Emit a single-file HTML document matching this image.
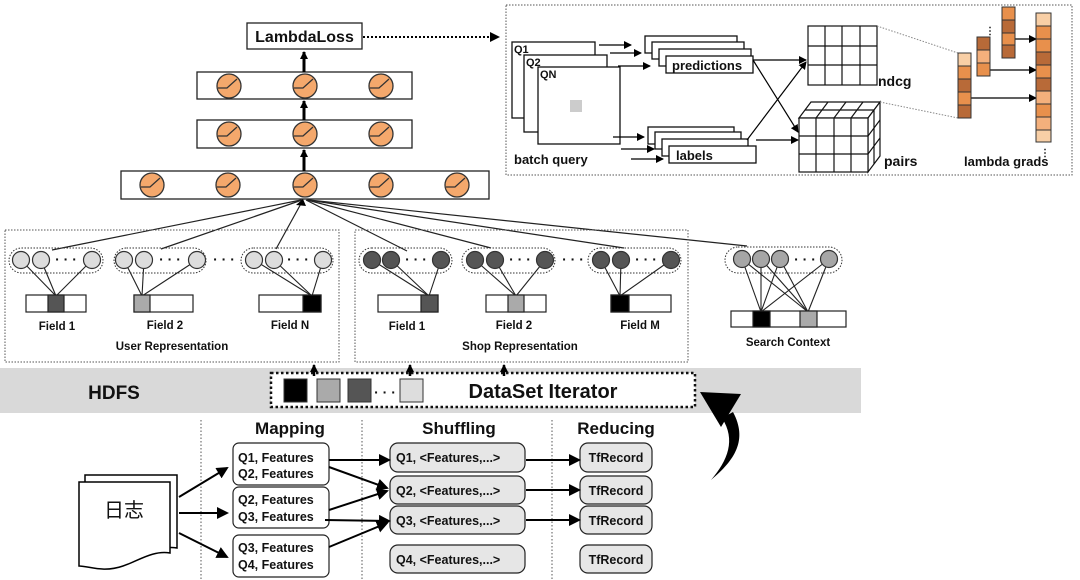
<!DOCTYPE html>
<html><head><meta charset="utf-8"><style>
html,body{margin:0;padding:0;background:#fff;width:1080px;height:580px;overflow:hidden}
svg{display:block}
text{font-family:"Liberation Sans","Noto Sans CJK SC",sans-serif;font-weight:bold;fill:#111}
</style></head><body>
<svg width="1080" height="580" viewBox="0 0 1080 580" xmlns="http://www.w3.org/2000/svg">
<defs>
<marker id="ah" markerWidth="8" markerHeight="8" refX="7" refY="4" orient="auto" markerUnits="userSpaceOnUse"><path d="M0,0 L8,4 L0,8 z" fill="#000"/></marker>
<marker id="ab" markerWidth="12" markerHeight="12" refX="10" refY="6" orient="auto" markerUnits="userSpaceOnUse"><path d="M0,0 L12,6 L0,12 z" fill="#000"/></marker>
<g id="neu"><circle r="12" fill="#f4a86c" stroke="#333" stroke-width="1.3"/><path d="M-11,2 L-2,2 L8,-7" fill="none" stroke="#333" stroke-width="1.3"/></g>
</defs>

<!-- top network -->
<rect x="247" y="23" width="115" height="26" fill="#fff" stroke="#222" stroke-width="1.3"/>
<text x="304.5" y="42" font-size="16" text-anchor="middle">LambdaLoss</text>
<line x1="363" y1="37" x2="496" y2="37" stroke="#000" stroke-width="2" stroke-dasharray="2,2"/>
<path d="M490,32 L500,37 L490,42 z" fill="#000"/>
<rect x="197" y="72" width="215" height="27" fill="#fff" stroke="#222" stroke-width="1.3"/>
<rect x="197" y="120" width="215" height="28" fill="#fff" stroke="#222" stroke-width="1.3"/>
<rect x="121" y="171" width="368" height="28" fill="#fff" stroke="#222" stroke-width="1.3"/>
<use href="#neu" x="229" y="86"/><use href="#neu" x="305" y="86"/><use href="#neu" x="381" y="86"/>
<use href="#neu" x="229" y="134"/><use href="#neu" x="305" y="134"/><use href="#neu" x="381" y="134"/>
<use href="#neu" x="152" y="185"/><use href="#neu" x="228" y="185"/><use href="#neu" x="305" y="185"/><use href="#neu" x="381" y="185"/><use href="#neu" x="457" y="185"/>
<line x1="304" y1="72" x2="304" y2="52" stroke="#000" stroke-width="3" marker-end="url(#ah)"/>
<line x1="304" y1="120" x2="304" y2="101" stroke="#000" stroke-width="3" marker-end="url(#ah)"/>
<line x1="304" y1="171" x2="304" y2="150" stroke="#000" stroke-width="3" marker-end="url(#ah)"/>

<!-- fan lines -->
<g stroke="#222" stroke-width="1.2" fill="none">
<line x1="301" y1="200" x2="52" y2="250"/><line x1="302" y1="200" x2="161" y2="249"/>
<line x1="303" y1="200" x2="276" y2="249"/><line x1="306" y1="200" x2="407" y2="251"/>
<line x1="307" y1="200" x2="491" y2="248"/><line x1="308" y1="200" x2="624" y2="248"/>
<line x1="309" y1="200" x2="747" y2="246"/>
</g>
<path d="M296,205 L303,199 L306,206 z" fill="#000"/>

<!-- right panel -->
<rect x="506" y="5" width="566" height="170" fill="#fff" stroke="#555" stroke-width="1" stroke-dasharray="1.5,1.5"/>
<rect x="512" y="42" width="83" height="76" fill="#fff" stroke="#111" stroke-width="1.3"/>
<rect x="524" y="55" width="83" height="77" fill="#fff" stroke="#111" stroke-width="1.3"/>
<rect x="538" y="67" width="82" height="77" fill="#fff" stroke="#111" stroke-width="1.3"/>
<text x="514" y="53" font-size="11">Q1</text><text x="526" y="66" font-size="11">Q2</text><text x="540" y="78" font-size="11">QN</text>
<rect x="570" y="100" width="12" height="12" fill="#ccc"/>
<text x="514" y="164" font-size="13">batch query</text>
<g fill="#fff" stroke="#111" stroke-width="1.3">
<rect x="645" y="36" width="92" height="17"/><rect x="652" y="42" width="92" height="17"/><rect x="659" y="49" width="92" height="17"/><rect x="666" y="56" width="87" height="17"/>
<rect x="648" y="127" width="86" height="17"/><rect x="655" y="132" width="86" height="17"/><rect x="662" y="139" width="86" height="17"/><rect x="669" y="146" width="87" height="17"/>
</g>
<text x="672" y="70" font-size="13">predictions</text>
<text x="676" y="160" font-size="13">labels</text>
<g stroke="#000" stroke-width="1.2" marker-end="url(#ah)">
<line x1="599" y1="45" x2="631" y2="45"/><line x1="610" y1="53" x2="641" y2="53"/><line x1="618" y1="66" x2="650" y2="66"/>
<line x1="613" y1="137" x2="644" y2="137"/><line x1="621" y1="149" x2="654" y2="149"/><line x1="631" y1="159" x2="663" y2="159"/>
<line x1="753" y1="60" x2="806" y2="60"/><line x1="753" y1="60" x2="798" y2="132"/>
<line x1="747" y1="140" x2="806" y2="62"/><line x1="756" y1="140" x2="798" y2="140"/>
<line x1="971" y1="98" x2="1036" y2="98"/><line x1="990" y1="70" x2="1036" y2="70"/><line x1="1015" y1="39" x2="1036" y2="39"/>
</g>
<!-- ndcg grid -->
<g stroke="#111" stroke-width="1.2" fill="#fff">
<rect x="808" y="26" width="69" height="59"/>
<line x1="825" y1="26" x2="825" y2="85"/><line x1="842" y1="26" x2="842" y2="85"/><line x1="860" y1="26" x2="860" y2="85"/>
<line x1="808" y1="46" x2="877" y2="46"/><line x1="808" y1="65" x2="877" y2="65"/>
</g>
<text x="878" y="86" font-size="14">ndcg</text>
<!-- pairs cube -->
<g stroke="#111" stroke-width="1.2" fill="#fff">
<path d="M799,118 L811,102 L880,102 L868,118 z"/>
<path d="M868,118 L880,102 L880,156 L868,172 z"/>
<rect x="799" y="118" width="69" height="54"/>
<line x1="816" y1="118" x2="816" y2="172"/><line x1="834" y1="118" x2="834" y2="172"/><line x1="851" y1="118" x2="851" y2="172"/>
<line x1="799" y1="136" x2="868" y2="136"/><line x1="799" y1="154" x2="868" y2="154"/>
<line x1="816" y1="118" x2="828" y2="102"/><line x1="834" y1="118" x2="846" y2="102"/><line x1="851" y1="118" x2="863" y2="102"/>
<line x1="805" y1="110" x2="874" y2="110"/>
<line x1="874" y1="110" x2="874" y2="164"/>
<line x1="868" y1="136" x2="880" y2="120"/><line x1="868" y1="154" x2="880" y2="138"/>
</g>
<text x="884" y="166" font-size="14">pairs</text>
<line x1="877" y1="26" x2="958" y2="53" stroke="#888" stroke-width="1" stroke-dasharray="1.5,1.5"/>
<line x1="880" y1="102" x2="958" y2="118" stroke="#888" stroke-width="1" stroke-dasharray="1.5,1.5"/>
<!-- orange columns -->
<g stroke="#333" stroke-width="1">
<rect x="958" y="53" width="13" height="13" fill="#f8cfa6"/><rect x="958" y="66" width="13" height="13" fill="#e8904c"/><rect x="958" y="79" width="13" height="13" fill="#b86a38"/><rect x="958" y="92" width="13" height="13" fill="#e8904c"/><rect x="958" y="105" width="13" height="13" fill="#b86a38"/>
<rect x="977" y="37" width="13" height="13" fill="#b86a38"/><rect x="977" y="50" width="13" height="13" fill="#f4b07c"/><rect x="977" y="63" width="13" height="13" fill="#e8904c"/>
<rect x="1002" y="7" width="13" height="13" fill="#e8904c"/><rect x="1002" y="20" width="13" height="13" fill="#b86a38"/><rect x="1002" y="33" width="13" height="12" fill="#e8904c"/><rect x="1002" y="45" width="13" height="13" fill="#b86a38"/>
<rect x="1036" y="13" width="15" height="13" fill="#f8cfa6"/><rect x="1036" y="26" width="15" height="13" fill="#e8904c"/><rect x="1036" y="39" width="15" height="13" fill="#e8904c"/><rect x="1036" y="52" width="15" height="13" fill="#b86a38"/><rect x="1036" y="65" width="15" height="13" fill="#e8904c"/><rect x="1036" y="78" width="15" height="13" fill="#b86a38"/><rect x="1036" y="91" width="15" height="13" fill="#f4b07c"/><rect x="1036" y="104" width="15" height="13" fill="#e8904c"/><rect x="1036" y="117" width="15" height="13" fill="#f4b07c"/><rect x="1036" y="130" width="15" height="12" fill="#f8cfa6"/>
</g>
<text x="985" y="34" font-size="10">⋮</text>
<text x="1040" y="156" font-size="10">⋮</text>
<text x="964" y="166" font-size="13">lambda grads</text>

<!-- representation boxes -->
<rect x="5" y="230" width="334" height="132" fill="none" stroke="#555" stroke-dasharray="1.5,1.5"/>
<rect x="355" y="230" width="333" height="132" fill="none" stroke="#555" stroke-dasharray="1.5,1.5"/>
<g fill="none" stroke="#333" stroke-dasharray="1.5,1.5">
<rect x="9" y="248" width="94" height="25" rx="12.5"/><rect x="114" y="248" width="92" height="25" rx="12.5"/><rect x="241" y="248" width="92" height="25" rx="12.5"/>
<rect x="359" y="248" width="93" height="25" rx="12.5"/><rect x="462" y="248" width="93" height="25" rx="12.5"/><rect x="588" y="248" width="93" height="25" rx="12.5"/>
<rect x="725" y="247" width="117" height="26" rx="13"/>
</g>
<g stroke="#222" stroke-width="1.1">
<line x1="21" y1="260" x2="56" y2="296"/><line x1="41" y1="260" x2="56" y2="296"/><line x1="92" y1="260" x2="56" y2="296"/>
<line x1="124" y1="260" x2="142" y2="296"/><line x1="144" y1="260" x2="142" y2="296"/><line x1="197" y1="260" x2="142" y2="296"/>
<line x1="254" y1="260" x2="312" y2="296"/><line x1="274" y1="260" x2="312" y2="296"/><line x1="323" y1="260" x2="312" y2="296"/>
<line x1="372" y1="260" x2="429" y2="296"/><line x1="391" y1="260" x2="429" y2="296"/><line x1="441" y1="260" x2="429" y2="296"/>
<line x1="475" y1="260" x2="516" y2="296"/><line x1="495" y1="260" x2="516" y2="296"/><line x1="545" y1="260" x2="516" y2="296"/>
<line x1="601" y1="260" x2="620" y2="296"/><line x1="621" y1="260" x2="620" y2="296"/><line x1="671" y1="260" x2="620" y2="296"/>
<line x1="742" y1="259" x2="761" y2="312"/><line x1="742" y1="259" x2="808" y2="312"/>
<line x1="761" y1="259" x2="761" y2="312"/><line x1="761" y1="259" x2="808" y2="312"/>
<line x1="780" y1="259" x2="761" y2="312"/><line x1="780" y1="259" x2="808" y2="312"/>
<line x1="829" y1="259" x2="761" y2="312"/><line x1="829" y1="259" x2="808" y2="312"/>
</g>
<g stroke="#333" stroke-width="1.2">
<g fill="#ddd"><circle cx="21" cy="260" r="8.5"/><circle cx="41" cy="260" r="8.5"/><circle cx="92" cy="260" r="8.5"/><circle cx="124" cy="260" r="8.5"/><circle cx="144" cy="260" r="8.5"/><circle cx="197" cy="260" r="8.5"/><circle cx="254" cy="260" r="8.5"/><circle cx="274" cy="260" r="8.5"/><circle cx="323" cy="260" r="8.5"/></g>
<g fill="#555"><circle cx="372" cy="260" r="8.5"/><circle cx="391" cy="260" r="8.5"/><circle cx="441" cy="260" r="8.5"/><circle cx="475" cy="260" r="8.5"/><circle cx="495" cy="260" r="8.5"/><circle cx="545" cy="260" r="8.5"/><circle cx="601" cy="260" r="8.5"/><circle cx="621" cy="260" r="8.5"/><circle cx="671" cy="260" r="8.5"/></g>
<g fill="#a6a6a6"><circle cx="742" cy="259" r="8.5"/><circle cx="761" cy="259" r="8.5"/><circle cx="780" cy="259" r="8.5"/><circle cx="829" cy="259" r="8.5"/></g>
</g>
<g font-size="14" text-anchor="middle">
<text x="66" y="264">· · ·</text><text x="170" y="264">· · ·</text><text x="224" y="264">· · ·</text><text x="298" y="264">· · ·</text>
<text x="416" y="264">· · ·</text><text x="520" y="264">· · ·</text><text x="573" y="264">· · ·</text><text x="646" y="264">· · ·</text><text x="805" y="264">· · ·</text>
</g>
<!-- bars -->
<g stroke="#222" stroke-width="1.2">
<rect x="26" y="295" width="60" height="17" fill="#fff"/><rect x="48" y="295" width="16" height="17" fill="#555"/>
<rect x="134" y="295" width="59" height="17" fill="#fff"/><rect x="134" y="295" width="16" height="17" fill="#aaa"/>
<rect x="259" y="295" width="62" height="17" fill="#fff"/><rect x="303" y="295" width="18" height="17" fill="#000"/>
<rect x="378" y="295" width="60" height="17" fill="#fff"/><rect x="421" y="295" width="17" height="17" fill="#555"/>
<rect x="486" y="295" width="60" height="17" fill="#fff"/><rect x="508" y="295" width="16" height="17" fill="#aaa"/>
<rect x="611" y="295" width="60" height="17" fill="#fff"/><rect x="611" y="295" width="18" height="17" fill="#000"/>
<rect x="731" y="311" width="115" height="16" fill="#fff"/><rect x="753" y="311" width="17" height="16" fill="#000"/><rect x="800" y="311" width="17" height="16" fill="#aaa"/>
</g>
<g font-size="11.5" text-anchor="middle">
<text x="57" y="330">Field 1</text><text x="165" y="329">Field 2</text><text x="290" y="329">Field N</text>
<text x="407" y="330">Field 1</text><text x="514" y="329">Field 2</text><text x="640" y="329">Field M</text>
<text x="172" y="350">User Representation</text><text x="520" y="350">Shop Representation</text>
<text x="788" y="346">Search Context</text>
</g>

<!-- HDFS band -->
<rect x="0" y="368" width="861" height="45" fill="#d9d9d9"/>
<text x="114" y="399" font-size="19" text-anchor="middle">HDFS</text>
<rect x="271" y="373" width="424" height="34" fill="#fff" stroke="#111" stroke-width="2.5" stroke-dasharray="2.5,2.5"/>
<g stroke="#333" stroke-width="1"><rect x="284" y="379" width="23" height="23" fill="#000"/><rect x="317" y="379" width="23" height="23" fill="#aaa"/><rect x="348" y="379" width="23" height="23" fill="#555"/><rect x="400" y="379" width="23" height="23" fill="#ddd"/></g>
<text x="385" y="397" font-size="14" text-anchor="middle">· · ·</text>
<text x="543" y="398" font-size="20" text-anchor="middle">DataSet Iterator</text>
<g stroke="#000" stroke-width="2.5">
<line x1="314" y1="376" x2="314" y2="365" marker-end="url(#ah)"/><line x1="410" y1="376" x2="410" y2="365" marker-end="url(#ah)"/><line x1="504" y1="376" x2="504" y2="365" marker-end="url(#ah)"/>
</g>
<!-- curved arrow -->
<path d="M711,480 C735,460 748,440 733,412 L722,418 C736,440 728,460 711,480 z" fill="#000"/>
<path d="M700,392 L741,394 L721,427 z" fill="#000"/>

<!-- bottom map-reduce -->
<g stroke="#555" stroke-dasharray="1.5,2"><line x1="201" y1="420" x2="201" y2="580"/><line x1="362" y1="420" x2="362" y2="580"/><line x1="552" y1="420" x2="552" y2="580"/></g>
<g font-size="17" text-anchor="middle"><text x="290" y="434">Mapping</text><text x="459" y="434">Shuffling</text><text x="616" y="434">Reducing</text></g>
<!-- doc -->
<path d="M85,475 L177,475 L177,548 C160,545 145,556 130,562 C110,570 95,562 85,562 z" fill="#fff" stroke="#000" stroke-width="1.5"/>
<path d="M79,482 L170,482 L170,553 C153,550 138,561 123,566 C103,573 89,566 79,566 z" fill="#fff" stroke="#000" stroke-width="1.5"/>
<text x="124" y="517" font-size="20" text-anchor="middle" style="font-weight:normal">日志</text>
<g fill="#fff" stroke="#222" stroke-width="1.2">
<rect x="233" y="443" width="96" height="42" rx="6"/><rect x="233" y="487" width="96" height="41" rx="6"/><rect x="233" y="535" width="96" height="42" rx="6"/>
</g>
<g fill="#e6e6e6" stroke="#222" stroke-width="1.2">
<rect x="390" y="443" width="135" height="29" rx="8"/><rect x="390" y="476" width="135" height="28" rx="8"/><rect x="390" y="506" width="135" height="28" rx="8"/><rect x="390" y="545" width="135" height="28" rx="8"/>
<rect x="580" y="443" width="72" height="29" rx="8"/><rect x="580" y="476" width="72" height="28" rx="8"/><rect x="580" y="506" width="72" height="28" rx="8"/><rect x="580" y="545" width="72" height="28" rx="8"/>
</g>
<g font-size="12.5">
<text x="238" y="462">Q1, Features</text><text x="238" y="478">Q2, Features</text>
<text x="238" y="504">Q2, Features</text><text x="238" y="521">Q3, Features</text>
<text x="238" y="552">Q3, Features</text><text x="238" y="569">Q4, Features</text>
<text x="396" y="462">Q1, &lt;Features,...&gt;</text><text x="396" y="495">Q2, &lt;Features,...&gt;</text><text x="396" y="525">Q3, &lt;Features,...&gt;</text><text x="396" y="564">Q4, &lt;Features,...&gt;</text>
<text x="616" y="462" text-anchor="middle">TfRecord</text><text x="616" y="495" text-anchor="middle">TfRecord</text><text x="616" y="525" text-anchor="middle">TfRecord</text><text x="616" y="564" text-anchor="middle">TfRecord</text>
</g>
<g stroke="#000" stroke-width="2" marker-end="url(#ab)">
<line x1="179" y1="497" x2="227" y2="468"/><line x1="179" y1="513" x2="227" y2="513"/><line x1="179" y1="533" x2="227" y2="557"/>
<line x1="329" y1="460" x2="389" y2="460"/><line x1="329" y1="467" x2="387" y2="488"/><line x1="329" y1="510" x2="387" y2="491"/>
<line x1="325" y1="520" x2="389" y2="521"/><line x1="329" y1="547" x2="387" y2="523"/>
<line x1="526" y1="460" x2="579" y2="460"/><line x1="526" y1="490" x2="579" y2="490"/><line x1="526" y1="520" x2="579" y2="520"/>
</g>
</svg>
</body></html>
